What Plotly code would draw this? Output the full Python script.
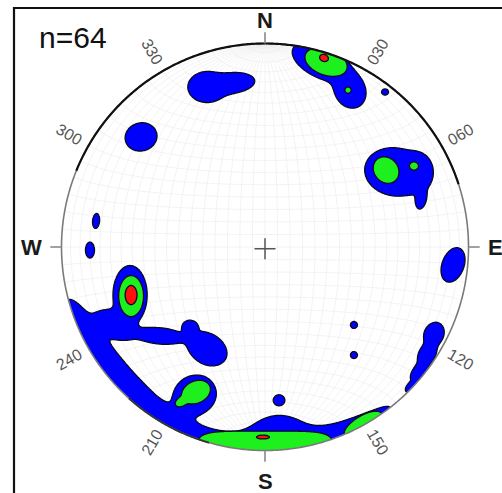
import numpy as np
import plotly.graph_objects as go

# ---------------------------------------------------------------------------
# Pole-density contours on a lower-hemisphere equal-area net (unit radius).
# Each contour level is described by elliptical patches (x, y, a, b, angle)
# and by patches hugging the primitive circle (azimuth, half-span deg, r0, w).
# ---------------------------------------------------------------------------
N_POLES = 64

BLUE_ELLIPSES = [
    (0.280, 0.909, 0.157, 0.079, -25),
    (0.418, 0.767, 0.088, 0.074, -60),
    (0.590, 0.762, 0.017, 0.015, 0),
    (0.639, 0.369, 0.150, 0.118, -10),
    (0.752, 0.369, 0.084, 0.066, 90),
    (0.767, 0.236, 0.049, 0.025, 80),
    (-0.285, 0.786, 0.094, 0.076, 0),
    (-0.160, 0.806, 0.110, 0.050, 6),
    (-0.609, 0.541, 0.079, 0.069, 15),
    (-0.830, 0.128, 0.037, 0.017, 85),
    (-0.860, -0.015, 0.039, 0.022, 90),
    (-0.663, -0.236, 0.145, 0.084, 90),
    (-0.737, -0.383, 0.100, 0.058, -30),
    (-0.516, -0.437, 0.118, 0.040, -5),
    (-0.285, -0.499, 0.105, 0.075, -30),
    (-0.369, -0.393, 0.038, 0.033, 0),
    (-0.344, -0.727, 0.106, 0.096, 20),
    (0.437, -0.383, 0.017, 0.017, 0),
    (0.437, -0.531, 0.017, 0.017, 0),
    (0.069, -0.752, 0.025, 0.027, 90),
    (0.924, -0.088, 0.088, 0.054, 70),
    (0.830, -0.428, 0.060, 0.048, 65),
    (0.796, -0.526, 0.060, 0.040, 60),
    (0.757, -0.609, 0.054, 0.028, 52),
    (0.717, -0.683, 0.030, 0.015, 48),
]
BLUE_ARCS = [
    (229, 26, 1.0, 0.108),
    (176, 34, 1.0, 0.078),
    (176, 11, 1.0, 0.170),
]

GREEN_ELLIPSES = [
    (0.300, 0.909, 0.108, 0.064, -20),
    (0.408, 0.771, 0.015, 0.015, 0),
    (0.595, 0.378, 0.069, 0.059, -50),
    (0.732, 0.398, 0.022, 0.020, 0),
    (-0.658, -0.241, 0.101, 0.061, 90),
    (-0.339, -0.713, 0.074, 0.054, 25),
    (-0.413, -0.762, 0.029, 0.020, 30),
]
GREEN_ARCS = [
    (180, 19, 1.0, 0.095),
    (150.5, 5.5, 1.0, 0.045),
]

RED_ELLIPSES = [
    (0.290, 0.929, 0.022, 0.017, -20),
    (-0.658, -0.236, 0.047, 0.029, 90),
    (-0.010, -0.934, 0.032, 0.009, 0),
]
RED_ARCS = []

RIM_AZIMUTHS = [30, 60, 120, 150, 210, 240, 300, 330]
RIM_LABELS = ["030", "060", "120", "150", "210", "240", "300", "330"]
CARDINALS = ["N", "E", "S", "W"]
CARDINAL_AZ = [0, 90, 180, 270]

LEVEL_COLORS = ["#0000ff", "#1ef01e", "#ff1010"]

# ---------------------------------------------------------------------------
grid = np.linspace(-1.06, 1.06, 531)
X, Y = np.meshgrid(grid, grid)
R = np.hypot(X, Y)
AZ = np.degrees(np.arctan2(X, Y)) % 360


def level_field(ellipses, arcs, lam=1.6):
    f = np.zeros_like(X)
    for cx, cy, a, b, ang in ellipses:
        t = np.radians(ang)
        dx, dy = X - cx, Y - cy
        u = dx * np.cos(t) + dy * np.sin(t)
        v = -dx * np.sin(t) + dy * np.cos(t)
        rho2 = (u / a) ** 2 + (v / b) ** 2
        f += np.exp(-lam * (np.minimum(rho2, 60) - 1))
    for az0, span, r0, w in arcs:
        d = (AZ - az0 + 180) % 360 - 180
        rho2 = (d / span) ** 2 + ((R - r0) / w) ** 2
        f += np.exp(-lam * (np.minimum(rho2, 60) - 1))
    return f


# equal-area net: meridians and small circles every 5 degrees
def to_net(vx, vy, vz):
    s = np.sqrt(1 - vz)
    return vx / s, vy / s


def poly_path(px, py):
    return "M" + " L".join(f"{a:.4f},{b:.4f}" for a, b in zip(px, py))


net_parts = []
t = np.linspace(0, np.pi, 91)
for deg in range(5, 180, 5):
    d = np.radians(deg)
    px, py = to_net(np.sin(t) * np.cos(d), np.cos(t),
                    -np.sin(t) * np.sin(d))
    net_parts.append(poly_path(px, py))
    px, py = to_net(np.sin(d) * np.cos(t), np.full_like(t, np.cos(d)),
                    -np.sin(d) * np.sin(t))
    net_parts.append(poly_path(px, py))

fig = go.Figure()

levels = [(BLUE_ELLIPSES, BLUE_ARCS), (GREEN_ELLIPSES, GREEN_ARCS),
          (RED_ELLIPSES, RED_ARCS)]
for (ell, arcs), col in zip(levels, LEVEL_COLORS):
    z = level_field(ell, arcs)
    fig.add_trace(go.Contour(
        x=grid, y=grid, z=z,
        zmin=0, zmax=2, autocontour=False,
        contours=dict(start=1, end=1, size=1, coloring="fill",
                      showlines=True),
        colorscale=[[0, "rgba(255,255,255,0)"], [0.5, "rgba(255,255,255,0)"],
                    [0.5, col], [1, col]],
        line=dict(color="#0a0a1e", width=1.3, smoothing=1),
        showscale=False, hoverinfo="skip"))

# centre cross
fig.add_trace(go.Scatter(x=[0], y=[-0.008], mode="markers",
                         marker=dict(symbol="cross-thin", size=15,
                                     line=dict(color="#555", width=1.5)),
                         hoverinfo="skip"))


def arc_path(az_from, az_to, r=1.0, n=200, close=False):
    a = np.radians(np.linspace(az_from, az_to, n))
    pts = [f"{r*np.sin(v):.5f},{r*np.cos(v):.5f}" for v in a]
    return "M" + " L".join(pts) + (" Z" if close else "")


shapes = [dict(type="path", path=" ".join(net_parts), xref="x", yref="y",
               line=dict(color="#ebebeb", width=0.6), layer="below")]
# white mask outside the primitive circle
mask = "M-3,-3 L3,-3 L3,3 L-3,3 Z " + arc_path(0, 360, 1.0, 721, True)
shapes.append(dict(type="path", path=mask, xref="x", yref="y",
                   fillcolor="white", line=dict(width=0), layer="above",
                   fillrule="evenodd"))
shapes.append(dict(type="path", path=arc_path(0, 360, 1.0, 721, True),
                   xref="x", yref="y", line=dict(color="#7a7a7a", width=1.6),
                   layer="above"))
shapes.append(dict(type="path", path=arc_path(-68, 72, 1.0, 300),
                   xref="x", yref="y", line=dict(color="#111", width=2.2),
                   layer="above"))
shapes.append(dict(type="path", path=arc_path(196, 222, 1.0, 80),
                   xref="x", yref="y", line=dict(color="#333", width=1.8),
                   layer="above"))
for az in CARDINAL_AZ:
    a = np.radians(az)
    shapes.append(dict(type="line", xref="x", yref="y",
                       x0=np.sin(a), y0=np.cos(a),
                       x1=1.055 * np.sin(a), y1=1.055 * np.cos(a),
                       line=dict(color="#8a8a8a", width=1.6), layer="above"))
# frame
shapes.append(dict(type="rect", xref="paper", yref="paper",
                   x0=14 / 502, x1=1.05, y0=-0.05, y1=1 - 8 / 493,
                   line=dict(color="#111", width=2.2), layer="above"))

annotations = []
for az, lab in zip(RIM_AZIMUTHS, RIM_LABELS):
    a = np.radians(az)
    ang = az - 90 if az < 180 else az - 270
    annotations.append(dict(x=1.11 * np.sin(a), y=1.11 * np.cos(a),
                            xref="x", yref="y", text=lab, showarrow=False,
                            textangle=ang, xanchor="center",
                            yanchor="middle",
                            font=dict(family="Liberation Sans, Arial",
                                      size=16, color="#555")))
card_r = {"N": 1.115, "E": 1.135, "S": 1.15, "W": 1.145}
for az, lab in zip(CARDINAL_AZ, CARDINALS):
    a = np.radians(az)
    annotations.append(dict(x=card_r[lab] * np.sin(a),
                            y=card_r[lab] * np.cos(a),
                            xref="x", yref="y", text=f"<b>{lab}</b>",
                            showarrow=False, xanchor="center",
                            yanchor="middle",
                            font=dict(family="Liberation Sans, Arial",
                                      size=22, color="#1a1a1a")))
annotations.append(dict(x=73 / 502, y=1 - 37 / 493, xref="paper",
                        yref="paper", text=f"n={N_POLES}", showarrow=False,
                        xanchor="center", yanchor="middle",
                        font=dict(family="Liberation Sans, Arial", size=30,
                                  color="#111")))

fig.update_layout(
    width=502, height=493, margin=dict(l=0, r=0, t=0, b=0),
    paper_bgcolor="white", plot_bgcolor="white", showlegend=False,
    xaxis=dict(range=[-265 / 203.5, 237 / 203.5], visible=False,
               fixedrange=True),
    yaxis=dict(range=[-246 / 203.5, 247 / 203.5], visible=False,
               fixedrange=True),
    shapes=shapes, annotations=annotations,
)

fig.write_html("out.html")
